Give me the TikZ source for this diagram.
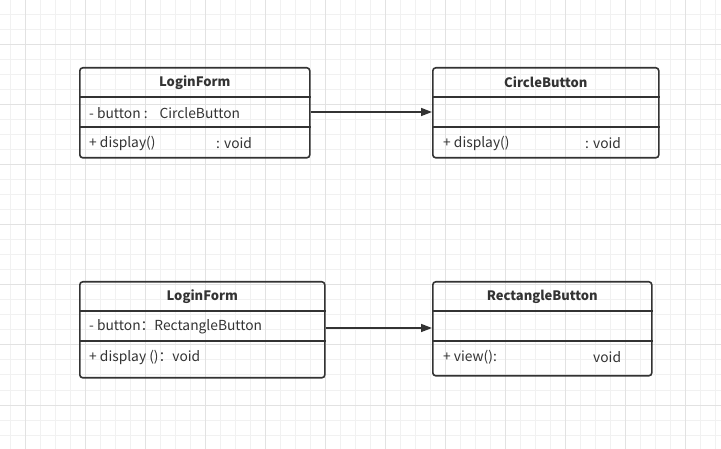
\documentclass[tikz,border=0pt]{standalone}
\usepackage{fontspec}
\setmainfont{Noto Sans CJK SC}
\usetikzlibrary{arrows.meta}
\definecolor{ink}{HTML}{333333}
\definecolor{gridminor}{HTML}{F1F1F1}
\definecolor{gridmajor}{HTML}{E2E2E2}
\begin{document}
\begin{tikzpicture}[x=1pt,y=-1pt,
 box/.style={draw=ink, line width=1.6pt, rounded corners=3pt, inner sep=0pt, anchor=north west},
 title/.style={font=\fontsize{13}{15}\selectfont\bfseries, text=ink, inner sep=0pt},
 member/.style={font=\fontsize{13.8}{16}\selectfont, text=ink, anchor=west, inner sep=0pt},
 divider/.style={draw=ink, line width=1.6pt},
 link/.style={draw=ink, line width=1.5pt, -{Triangle[length=11pt,width=8pt]}}]
\useasboundingbox (0,0) rectangle (721,449);
\fill[white] (0,0) rectangle (721,449);
\foreach \x in {10,25,...,720} \draw[gridminor, line width=1pt] (\x,0) -- (\x,449);
\foreach \y in {0,15,...,449} \draw[gridminor, line width=1pt] (0,\y) -- (721,\y);
\foreach \x in {25,85,...,720} \draw[gridmajor, line width=1pt] (\x,0) -- (\x,449);
\foreach \y in {45,105,...,449} \draw[gridmajor, line width=1pt] (0,\y) -- (721,\y);

% top-left LoginForm
\node[box, minimum width=230pt, minimum height=90pt] (lf1) at (79,67) {};
\draw[divider] ([yshift=-30pt]lf1.north west) -- ([yshift=-30pt]lf1.north east);
\draw[divider] ([yshift=-60pt]lf1.north west) -- ([yshift=-60pt]lf1.north east);
\node[title] (lf1t) at ([yshift=-15.5pt]lf1.north) {LoginForm};
\node[member] (lf1a) at ([xshift=10pt,yshift=-46pt]lf1.north west) {- button :\hspace{12pt}CircleButton};
\node[member] (lf1m) at ([xshift=10pt,yshift=-76pt]lf1.north west) {+ display()};
\node[member] (lf1v) at ([xshift=137pt,yshift=-76pt]lf1.north west) {: void};

% top-right CircleButton
\node[box, minimum width=226pt, minimum height=90pt] (cb) at (432,67) {};
\draw[divider] ([yshift=-30pt]cb.north west) -- ([yshift=-30pt]cb.north east);
\draw[divider] ([yshift=-60pt]cb.north west) -- ([yshift=-60pt]cb.north east);
\node[title] (cbt) at ([yshift=-15.5pt]cb.north) {CircleButton};
\node[member] (cbm) at ([xshift=11pt,yshift=-76pt]cb.north west) {+ display()};
\node[member] (cbv) at ([xshift=153pt,yshift=-76pt]cb.north west) {: void};

% bottom-left LoginForm
\node[box, minimum width=245pt, minimum height=96pt] (lf2) at (79,281) {};
\draw[divider] ([yshift=-30pt]lf2.north west) -- ([yshift=-30pt]lf2.north east);
\draw[divider] ([yshift=-60pt]lf2.north west) -- ([yshift=-60pt]lf2.north east);
\node[title] (lf2t) at ([yshift=-15.5pt]lf2.north) {LoginForm};
\node[member] (lf2a) at ([xshift=10pt,yshift=-46pt]lf2.north west) {- button：RectangleButton};
\node[member] (lf2m) at ([xshift=10pt,yshift=-76pt]lf2.north west) {+ display ()：void};

% bottom-right RectangleButton
\node[box, minimum width=219pt, minimum height=94pt] (rb) at (432,281) {};
\draw[divider] ([yshift=-30pt]rb.north west) -- ([yshift=-30pt]rb.north east);
\draw[divider] ([yshift=-60pt]rb.north west) -- ([yshift=-60pt]rb.north east);
\node[title] (rbt) at ([yshift=-15.5pt]rb.north) {RectangleButton};
\node[member] (rbm) at ([xshift=11pt,yshift=-76pt]rb.north west) {+ view():};
\node[member] (rbv) at ([xshift=161pt,yshift=-76pt]rb.north west) {void};

% associations
\draw[link] ([yshift=1pt]lf1.east |- lf1a) -- ([yshift=1pt]cb.west |- lf1a);
\draw[link] ([yshift=-1pt]lf2.east |- lf2a) -- ([yshift=-1pt]rb.west |- lf2a);
\end{tikzpicture}
\end{document}
